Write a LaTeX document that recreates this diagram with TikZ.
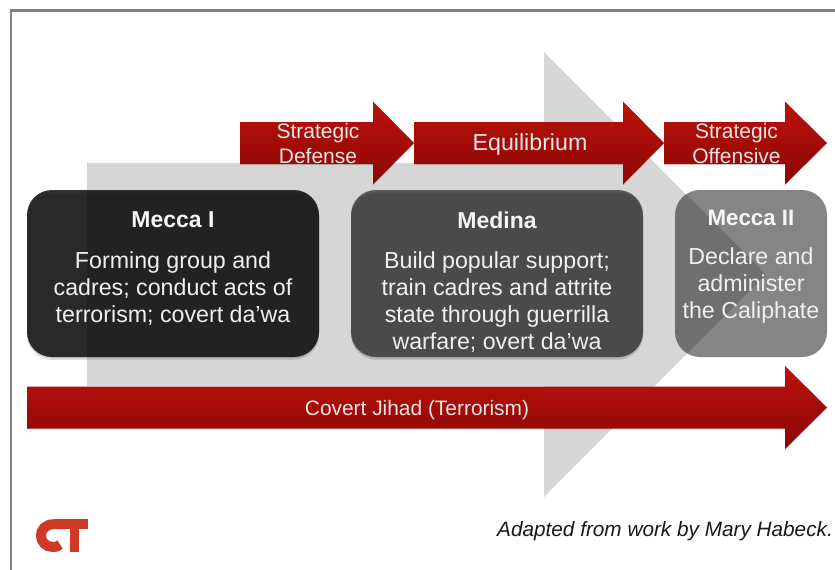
\documentclass[tikz,border=0pt]{standalone}
\usepackage{fontspec}
\setmainfont{Liberation Sans}
\definecolor{redtop}{HTML}{BC120C}
\definecolor{redbot}{HTML}{8A0705}
\definecolor{grayarrow}{HTML}{D6D6D6}
\definecolor{logored}{HTML}{CF3A26}
\definecolor{framegray}{HTML}{808080}
\tikzset{
  redarrow/.style={top color=redtop,bottom color=redbot,draw=none},
  softshadow/.style={fill=black,opacity=.10,draw=none},
  card/.style={fill=black,draw=none,rounded corners=25pt},
  cardtext/.style={text=white!94!black,align=center,inner sep=0pt,font=\fontsize{23.2}{27}\selectfont},
  cardtitle/.style={text=white!96!black,align=center,inner sep=0pt,font=\fontsize{23}{25}\selectfont\bfseries},
  arrowlabel/.style={text=white!90!black,align=center,inner sep=0pt,font=\fontsize{21}{25}\selectfont},
}
\newcommand{\redarrowpath}[4]{% x0, xneck, xtip, ycentre
  (#1,#4-21) -- (#2,#4-21) -- (#2,#4-41.5) -- (#3,#4) -- (#2,#4+41.5) -- (#2,#4+21) -- (#1,#4+21) -- cycle}
\begin{document}
\begin{tikzpicture}[x=1pt,y=-1pt]
\useasboundingbox (0,0) rectangle (835,570);
% frame
\draw[framegray,line width=2.4pt] (11,570) -- (11,10.5) -- (835,10.5);
% large grey arrow
\fill[grayarrow] (87,163) -- (544,163) -- (544,52) -- (766,274.5) -- (544,497) -- (544,386) -- (87,386) -- cycle;
% cards
\foreach \s in {1.5,3}{
  \fill[softshadow,rounded corners=25pt] (27,190+\s) rectangle (319,357+\s);
  \fill[softshadow,rounded corners=25pt] (351,190+\s) rectangle (643,357+\s);
}
\fill[card,fill opacity=.80] (27,190) rectangle (319,357);
\fill[card,fill opacity=.57] (351,190) rectangle (643,357);
\fill[card,fill opacity=.48] (675,190) rectangle (827,357);
% red arrows
\foreach \a/\b/\c/\d in {240/373/414/143,414/623/664/143,664/785/827/143,27/785/827/407.5}{
  \fill[black,opacity=.12] \redarrowpath{\a}{\b}{\c}{\d+1};
  \path[redarrow] \redarrowpath{\a}{\b}{\c}{\d};
}
% arrow labels
\node[arrowlabel] (defense) at (318,143) {Strategic\\Defense};
\node[arrowlabel,font=\fontsize{23.2}{27}\selectfont] (equilibrium) at (530,144.5) {Equilibrium};
\node[arrowlabel] (offensive) at (736.5,143) {Strategic\\Offensive};
\node[arrowlabel,font=\fontsize{20.9}{25}\selectfont] (jihad) at (417,410) {Covert Jihad (Terrorism)};
% card text
\node[cardtitle] (meccaonetitle) at (173,220) {Mecca I};
\node[cardtext] (meccaonebody) at (173,288.5) {Forming group and\\cadres; conduct acts of\\terrorism; covert da'wa};
\node[cardtitle] (medinatitle) at (497,220) {Medina};
\node[cardtext] (medinabody) at (497,302) {Build popular support;\\train cadres and attrite\\state through guerrilla\\warfare; overt da'wa};
\node[cardtitle,font=\fontsize{22.3}{25}\selectfont\bfseries] (meccatwotitle) at (751,218) {Mecca II};
\node[cardtext] (meccatwobody) at (751,285.5) {Declare and\\administer\\the Caliphate};
% credit
\node[anchor=east,inner sep=0pt,text=black!90,font=\fontsize{20.75}{24}\selectfont\itshape] (credit) at (833,531.5) {Adapted from work by Mary Habeck.};
% CT logo
\draw[logored,line width=10pt] (65,524.2) -- (54,524.2) .. controls (45,524.2) and (41,530) .. (41,535.5) .. controls (41,542) and (46,547) .. (53,547) .. controls (56,547) and (58,546.5) .. (60,544.5);
\fill[logored] (60,519.2) rectangle (87.5,528.8);
\fill[logored] (70,519.2) rectangle (79,552);
\end{tikzpicture}
\end{document}
